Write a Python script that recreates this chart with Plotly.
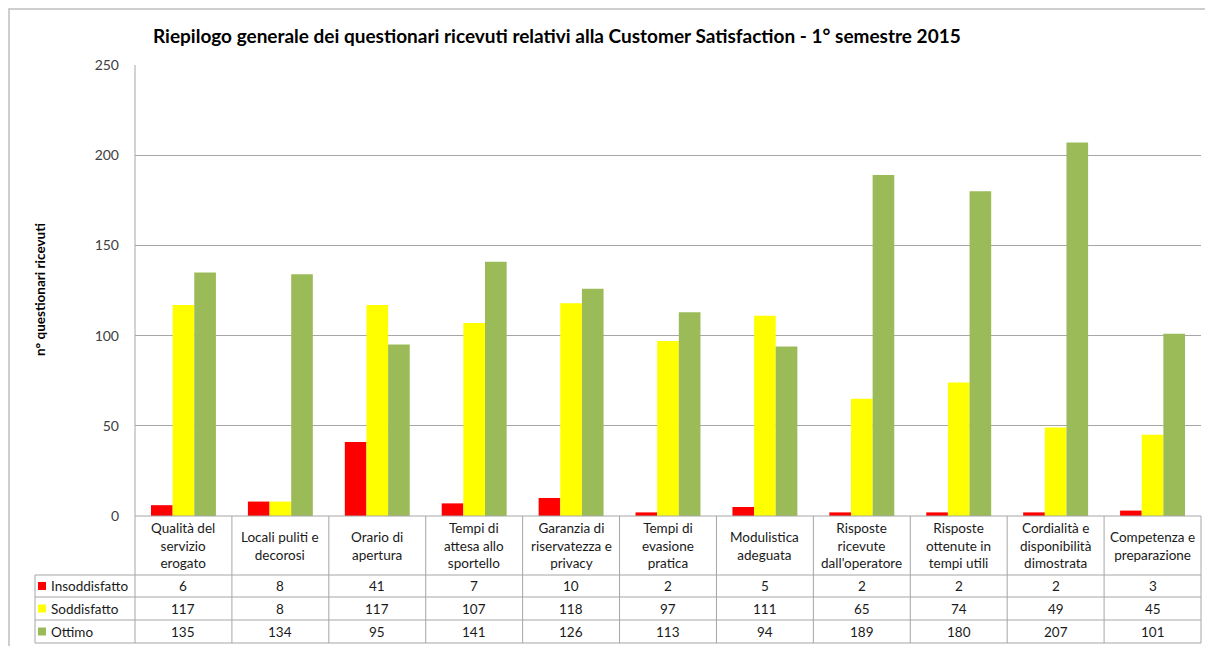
import plotly.graph_objects as go

categories = [
    "Qualità del<br>servizio<br>erogato",
    "Locali puliti e<br>decorosi",
    "Orario di<br>apertura",
    "Tempi di<br>attesa allo<br>sportello",
    "Garanzia di<br>riservatezza e<br>privacy",
    "Tempi di<br>evasione<br>pratica",
    "Modulistica<br>adeguata",
    "Risposte<br>ricevute<br>dall'operatore",
    "Risposte<br>ottenute in<br>tempi utili",
    "Cordialità e<br>disponibilità<br>dimostrata",
    "Competenza e<br>preparazione",
]
series_names = ["Insoddisfatto", "Soddisfatto", "Ottimo"]
insoddisfatto = [6, 8, 41, 7, 10, 2, 5, 2, 2, 2, 3]
soddisfatto = [117, 8, 117, 107, 118, 97, 111, 65, 74, 49, 45]
ottimo = [135, 134, 95, 141, 126, 113, 94, 189, 180, 207, 101]
colors = ["#FF0000", "#FFFF00", "#9BBB59"]
title = "Riepilogo generale dei questionari ricevuti relativi alla Customer Satisfaction - 1° semestre 2015"
y_title = "n° questionari ricevuti"

W, H = 1205, 646
L, R, T, B = 135, 1201, 65, 516
FONT = "Lato"
GRID = "#a6a6a6"
TXT = "#1a1a1a"


def px_x(p):
    return (p - L) / (R - L)


def px_y(p):
    return (B - p) / (B - T)


n = len(categories)
xs = list(range(n))
fig = go.Figure()
for name, vals, c in zip(series_names, [insoddisfatto, soddisfatto, ottimo], colors):
    fig.add_trace(go.Bar(x=xs, y=vals, name=name, marker=dict(color=c, line=dict(width=0)),
                         showlegend=False))

shapes = []
annotations = []

# outer frame
shapes.append(dict(type="rect", xref="paper", yref="paper",
                   x0=px_x(9), x1=px_x(1215), y0=px_y(9), y1=px_y(660),
                   line=dict(color="#bfbfbf", width=1.5), layer="below"))

# table geometry
col_w = (R - L) / n
header_bottom = 575
row_lines = [575, 597, 620, 643]
for k in range(n + 1):
    xp = L + k * col_w
    shapes.append(dict(type="line", xref="paper", yref="paper",
                       x0=px_x(xp), x1=px_x(xp), y0=px_y(B), y1=px_y(643),
                       line=dict(color=GRID, width=1)))
shapes.append(dict(type="line", xref="paper", yref="paper",
                   x0=px_x(35), x1=px_x(35), y0=px_y(575), y1=px_y(643),
                   line=dict(color=GRID, width=1)))
for yp in row_lines:
    shapes.append(dict(type="line", xref="paper", yref="paper",
                       x0=px_x(35), x1=px_x(R), y0=px_y(yp), y1=px_y(yp),
                       line=dict(color=GRID, width=1)))
shapes.append(dict(type="line", xref="paper", yref="paper",
                   x0=px_x(L), x1=px_x(R), y0=px_y(B), y1=px_y(B),
                   line=dict(color=GRID, width=1)))
shapes.append(dict(type="line", xref="paper", yref="paper",
                   x0=0, x1=0, y0=0, y1=1, line=dict(color=GRID, width=1)))

# header labels
for i, cat in enumerate(categories):
    annotations.append(dict(x=i, xref="x", y=px_y((B + header_bottom) / 2), yref="paper",
                            text=cat, showarrow=False, xanchor="center", yanchor="middle",
                            font=dict(family=FONT, size=13.5, color=TXT)))

# data rows
for r, (name, vals, c) in enumerate(zip(series_names, [insoddisfatto, soddisfatto, ottimo], colors)):
    yc = (row_lines[r] + row_lines[r + 1]) / 2
    shapes.append(dict(type="rect", xref="paper", yref="paper",
                       x0=px_x(38), x1=px_x(46), y0=px_y(yc - 4), y1=px_y(yc + 4),
                       fillcolor=c, line=dict(width=0)))
    annotations.append(dict(x=px_x(49), xref="paper", y=px_y(yc), yref="paper",
                            text=name, showarrow=False, xanchor="left", yanchor="middle",
                            font=dict(family=FONT, size=13.5, color=TXT)))
    for i, v in enumerate(vals):
        annotations.append(dict(x=i, xref="x", y=px_y(yc), yref="paper",
                                text=str(v), showarrow=False, xanchor="center", yanchor="middle",
                                font=dict(family=FONT, size=13.5, color=TXT)))

# y axis title
annotations.append(dict(x=px_x(40), xref="paper", y=px_y(290), yref="paper",
                        text="<b>" + y_title + "</b>", textangle=-90, showarrow=False,
                        xanchor="center", yanchor="middle",
                        font=dict(family=FONT, size=13.5, color="#000000")))
# title
annotations.append(dict(x=px_x(557), xref="paper", y=px_y(35), yref="paper",
                        text="<b>" + title + "</b>", showarrow=False,
                        xanchor="center", yanchor="middle",
                        font=dict(family=FONT, size=19, color="#000000")))

fig.update_layout(
    width=W, height=H,
    margin=dict(l=L, r=W - R, t=T, b=H - B, pad=0),
    paper_bgcolor="white", plot_bgcolor="white",
    barmode="group", bargap=0.33, bargroupgap=0,
    shapes=shapes, annotations=annotations,
    xaxis=dict(range=[-0.5, n - 0.5], showticklabels=False, showgrid=False,
               zeroline=False, showline=False, fixedrange=True),
    yaxis=dict(range=[0, 250], dtick=50, showgrid=True, gridcolor=GRID, gridwidth=1,
               zeroline=False, showline=False, ticks="", ticklabelstandoff=15,
               tickfont=dict(family=FONT, size=14, color="#404040")),
    font=dict(family=FONT),
)

fig.write_html("out.html", config={"displayModeBar": False},
               post_script="document.body.style.margin='0px';document.body.style.overflow='hidden';")
